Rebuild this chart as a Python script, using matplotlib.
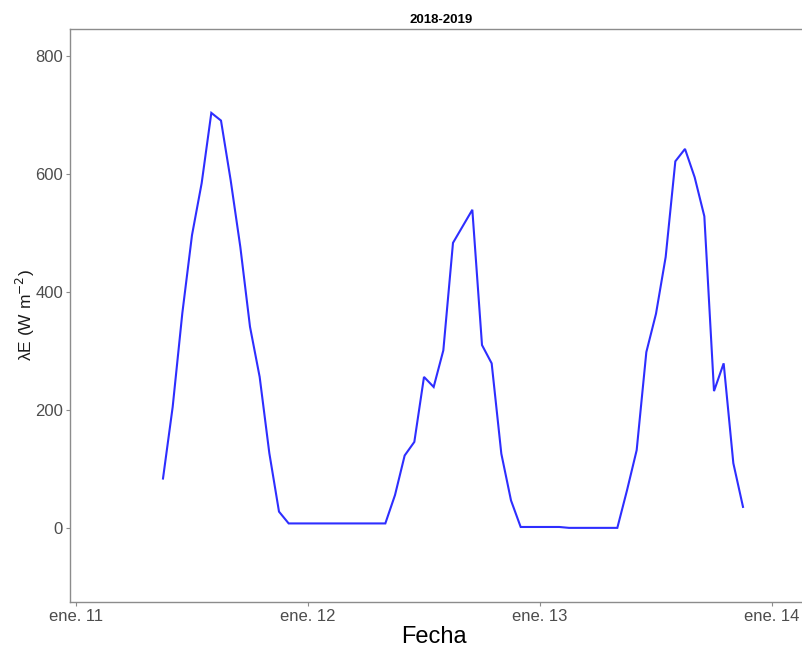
import matplotlib
matplotlib.use("Agg")
import matplotlib.pyplot as plt
import matplotlib.dates as mdates
from datetime import datetime, timedelta

# hours since 2019-01-11 00:00
hours = [9, 10, 11, 12, 13, 14, 15, 16, 17, 18, 19, 20, 21,
         22, 23, 24, 25, 26, 27, 28, 29, 30, 31, 32,
         33, 34, 35, 36, 37, 38, 39, 40, 41, 42, 43, 44, 45,
         46, 47, 48, 49, 50, 51, 52, 53, 54, 55, 56,
         57, 58, 59, 60, 61, 62, 63, 64, 65, 66, 67, 68, 69]
le_values = [84, 205, 364, 496, 584, 703, 690, 589, 476, 341, 256, 127, 28,
             8, 8, 8, 8, 8, 8, 8, 8, 8, 8, 8,
             56, 123, 146, 256, 239, 301, 483, 511, 539, 310, 279, 126, 47,
             2, 2, 2, 2, 2, 0.5, 0.5, 0.5, 0.5, 0.5, 0.5,
             64, 132, 298, 363, 459, 621, 642, 594, 528, 232, 279, 110, 36]
tick_days = [11, 12, 13, 14]
tick_labels = ["ene. 11", "ene. 12", "ene. 13", "ene. 14"]
y_ticks = [0, 200, 400, 600, 800]

start = datetime(2019, 1, 11)
times = [start + timedelta(hours=h) for h in hours]
tick_dates = [datetime(2019, 1, d) for d in tick_days]

plt.rcParams['font.family'] = ['Liberation Sans', 'DejaVu Sans']

W, H = 802, 650
fig = plt.figure(figsize=(W / 100, H / 100), dpi=100)
left, right, top, bottom = 70, 812, 29, 602
ax = fig.add_axes([left / W, 1 - bottom / H, (right - left) / W, (bottom - top) / H])

ax.plot(times, le_values, color='#2e2eff', lw=1.5, solid_joinstyle='miter')

ax.set_ylim(-125, 845)
x0 = start + timedelta(hours=-0.62)
x1 = start + timedelta(hours=(right - 76) / 232 * 24)
ax.set_xlim(x0, x1)

ax.set_xticks(tick_dates)
ax.set_xticklabels(tick_labels)
ax.set_yticks(y_ticks)

for s in ['left', 'top', 'bottom', 'right']:
    ax.spines[s].set_color('#8c8c8c')
    ax.spines[s].set_linewidth(1.0)
ax.tick_params(axis='both', colors='#8c8c8c', length=3, width=0.8,
               labelcolor='#4d4d4d', labelsize=12, pad=2)

ax.set_xlabel('Fecha', fontsize=17, color='black')
ax.xaxis.set_label_coords((434 - left) / (right - left), (bottom - 626) / (bottom - top))
ax.set_ylabel('λE (W m$^{-2}$)', fontsize=12.5, color='#1a1a1a')
ax.yaxis.set_label_coords((37 - left) / (right - left), 0.5)
ax.set_title('2018-2019', fontsize=9.5, fontweight='bold', pad=4)

fig.savefig('out.png', dpi=100)
